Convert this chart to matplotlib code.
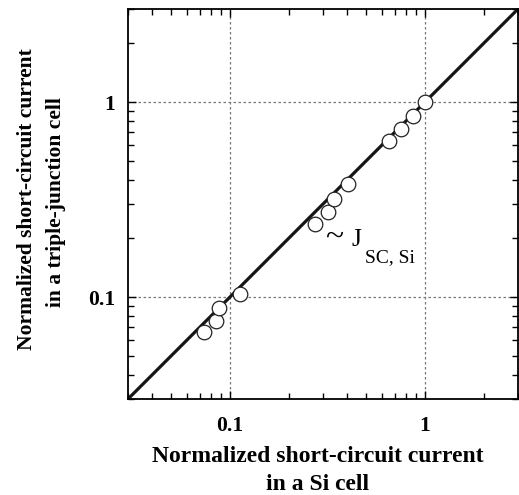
import numpy as np
import matplotlib
matplotlib.use("Agg")
import matplotlib.pyplot as plt
from matplotlib.ticker import LogLocator, NullFormatter, FixedLocator, FixedFormatter

# data
j_si = [0.074, 0.085, 0.088, 0.112, 0.274, 0.317, 0.343, 0.402, 0.653, 0.756, 0.868, 1.0]
j_3j = [0.066, 0.075, 0.0875, 0.104, 0.237, 0.273, 0.317, 0.380, 0.631, 0.724, 0.845, 1.0]
line_x = [0.03, 3.0]
tick_vals = [0.1, 1]
tick_labels = ["0.1", "1"]
xlabel_lines = ["Normalized short-circuit current", "in a Si cell"]
ylabel_lines = ["Normalized short-circuit current", "in a triple-junction cell"]

plt.rcParams['font.family'] = ['Liberation Serif', 'DejaVu Serif']

W, H = 519, 495
fig = plt.figure(figsize=(W/100, H/100), dpi=100)
ax = fig.add_axes([128/W, 1-399/H, 390/W, 390/H])

ax.plot(line_x, line_x, color="#151515", lw=2.3, zorder=2)
ax.plot(j_si, j_3j, 'o', ms=10.5, mfc="white", mec="#222222", mew=0.9, zorder=3)

ax.set_xscale("log")
ax.set_yscale("log")
ax.set_xlim(0.03, 3)
ax.set_ylim(0.03, 3)

for axis in (ax.xaxis, ax.yaxis):
    axis.set_major_locator(FixedLocator(tick_vals))
    axis.set_major_formatter(FixedFormatter(tick_labels))
    axis.set_minor_locator(LogLocator(base=10, subs=np.arange(2, 10)))
    axis.set_minor_formatter(NullFormatter())

ax.tick_params(which="both", direction="in", top=True, right=True, width=1.0)
ax.tick_params(which="major", length=6, labelsize=15.5)
ax.tick_params(axis="x", which="major", pad=12)
ax.tick_params(axis="y", which="major", pad=9)
ax.tick_params(which="minor", length=4.5)
for lab in ax.get_xticklabels() + ax.get_yticklabels():
    lab.set_fontweight("bold")

for s in ax.spines.values():
    s.set_linewidth(1.3)

ax.grid(which="major", ls=(0, (2, 2)), color="#777777", lw=0.9)

# axis titles, two lines each
fig.text(318/W, 1-462/H, xlabel_lines[0], fontsize=17, fontweight="bold",
         ha="center", va="baseline")
fig.text(318/W, 1-490/H, xlabel_lines[1], fontsize=17, fontweight="bold",
         ha="center", va="baseline")
fig.text(32/W, 1-199/H, ylabel_lines[0], fontsize=15.5, fontweight="bold",
         ha="center", va="baseline", rotation=90, rotation_mode="anchor")
fig.text(61/W, 1-202/H, ylabel_lines[1], fontsize=15.5, fontweight="bold",
         ha="center", va="baseline", rotation=90, rotation_mode="anchor")

# annotation ~ J_SC,Si
ax.text(0.528, 0.414, "~", transform=ax.transAxes, fontsize=24, ha="center", va="center")
ax.text(0.574, 0.392, "J", transform=ax.transAxes, fontsize=18.5, ha="left", va="baseline")
ax.text(0.607, 0.352, "SC, Si", transform=ax.transAxes, fontsize=14, ha="left", va="baseline")

plt.savefig("out.png", dpi=100)
